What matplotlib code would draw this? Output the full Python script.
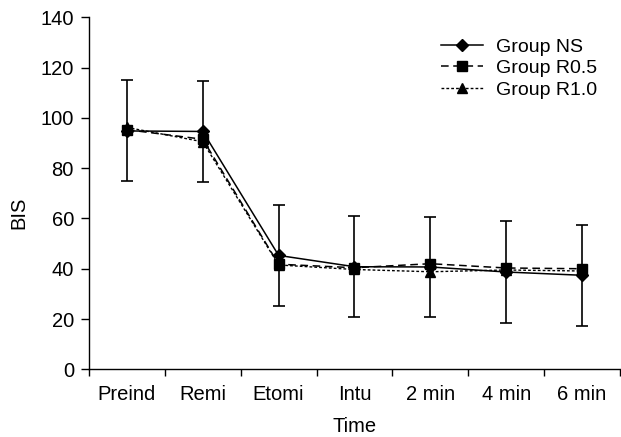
import numpy as np
import matplotlib
matplotlib.use('Agg')
import matplotlib.pyplot as plt

plt.rcParams['font.family'] = ['Liberation Sans', 'DejaVu Sans']

# 数据
Time_Labels = ['Preind', 'Remi', 'Etomi', 'Intu', '2 min', '4 min', '6 min']
BIS_NS = [94.8, 94.6, 45.3, 40.8, 40.7, 38.7, 37.4]
SD_NS = [20.1, 20.0, 20.1, 20.0, 20.0, 20.2, 20.0]
BIS_R05 = [95.3, 91.5, 41.8, 40.4, 42.0, 40.3, 40.0]
BIS_R10 = [96.2, 90.5, 41.5, 39.7, 38.8, 39.5, 39.1]

x = np.arange(len(Time_Labels))

fig = plt.figure(figsize=(6.21, 4.37), dpi=100)
ax = fig.add_axes([0.1433, 0.1549, 0.855, 0.8055])

ax.errorbar(x, BIS_NS, yerr=SD_NS, fmt='none', ecolor='black',
            elinewidth=1.2, capsize=4.6, capthick=1.2, zorder=1)
ax.plot(x, BIS_NS, color='black', linestyle='-', linewidth=1.1,
        marker='D', markersize=6.5, label='Group NS', zorder=3)
ax.plot(x, BIS_R05, color='black', linestyle=(0, (5, 3)), linewidth=1.1,
        marker='s', markersize=6.5, label='Group R0.5', zorder=3)
ax.plot(x, BIS_R10, color='black', linestyle=(0, (2, 1.5)), linewidth=1.0,
        marker='^', markersize=7, label='Group R1.0', zorder=3)

ax.set_xlim(-0.5, len(Time_Labels) - 0.5)
ax.set_ylim(0, 140)
ax.set_yticks(np.arange(0, 141, 20))

# 刻度线在类别之间
ax.set_xticks(x)
ax.set_xticklabels(Time_Labels)
ax.set_xticks(np.arange(-0.5, len(Time_Labels)), minor=True)
ax.tick_params(axis='x', which='major', length=0, pad=11, labelsize=14.5)
ax.tick_params(axis='x', which='minor', length=4.8, width=1, direction='out')
ax.tick_params(axis='y', length=5.8, width=1, direction='out', labelsize=14.5, pad=5)

ax.spines['top'].set_visible(False)
ax.spines['right'].set_visible(False)
ax.spines['left'].set_linewidth(1)
ax.spines['bottom'].set_linewidth(1)

ax.set_xlabel('Time', fontsize=14.5, labelpad=10)
ax.set_ylabel('BIS', fontsize=14.5)
ax.yaxis.set_label_coords(-0.115, 0.444)

ax.legend(loc='upper left', bbox_to_anchor=(441 / 621, 0.913),
          bbox_transform=fig.transFigure, borderaxespad=0, borderpad=0,
          frameon=False, fontsize=14, handlelength=2.16, handletextpad=0.69,
          labelspacing=0.2)

fig.savefig('out.png', dpi=100)
